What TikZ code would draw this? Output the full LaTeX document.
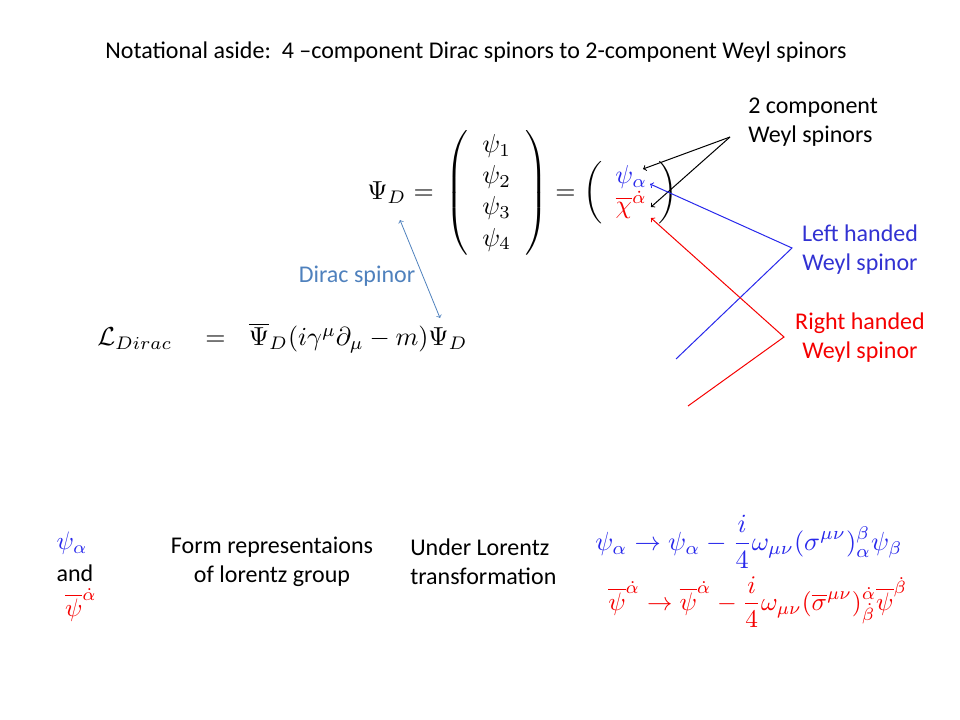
\RequirePackage{fix-cm}
\documentclass[tikz,border=0pt]{standalone}
\usepackage{graphicx}
\usepackage{fontspec}
\newfontfamily\calib{Carlito}
\definecolor{mblue}{RGB}{40,40,235}
\definecolor{tblue}{RGB}{50,50,210}
\definecolor{dblue}{RGB}{79,129,189}
\definecolor{mred}{RGB}{245,0,0}
\begin{document}
\begin{tikzpicture}[x=0.75pt,y=-0.75pt,
  txt/.style={font=\calib\fontsize{18}{21.6}\selectfont, inner sep=0pt, align=center},
  mth/.style={inner sep=0pt},
  conn/.style={line width=0.75pt, ->},
]
\useasboundingbox (0,0) rectangle (960,720);

% title
\node[txt] (title) at (476,52) {Notational aside:\ \ 4 –component Dirac spinors to 2-component Weyl spinors};

% Dirac spinor equation
\node[mth, anchor=west] (psiD) at (367,193)
  {\scalebox{1.95}{$\Psi_D = \,\left(\hspace{0.5pt}\begin{array}{c}\psi_1\\ \psi_2\\ \psi_3\\ \psi_4\end{array}\hspace{0.5pt}\right) =$}};
\node[mth, anchor=west] (weyl) at (583,193)
  {\scalebox{1.95}{$\left(\hspace{0pt}\renewcommand{\arraystretch}{0.85}\begin{array}{c}\color{mblue}\psi_\alpha\\ \color{mred}\overline{\chi}^{\dot\alpha}\end{array}\hspace{-0.5pt}\right)$}};

% Lagrangian
\node[mth, anchor=west] (lag) at (97,338)
  {\scalebox{1.95}{$\mathcal{L}_{Dirac}\quad = \hspace{6.2pt} \overline{\Psi}_D(i\gamma^\mu\partial_\mu - m)\Psi_D$}};

% labels
\node[txt, anchor=west, align=left] (wlab) at (748,122) {2 component\\Weyl spinors};
\node[txt, text=tblue] (llab) at (860,250) {Left handed\\Weyl spinor};
\node[txt, text=mred] (rlab) at (860,338) {Right handed\\Weyl spinor};
\node[txt, text=dblue] (dlab) at (357,276) {Dirac spinor};

% connectors
\coordinate (wk) at (730,137);
\coordinate (tpsi) at (643,169);
\coordinate (tchi) at (651,207);
\draw[conn] (wk) -- (tpsi);
\draw[conn] (wk) -- (tchi);

\coordinate (bs) at (676,359);
\coordinate (bk) at (792,248);
\coordinate (bt) at (650,184);
\draw[conn, draw=mblue] (bs) -- (bk) -- (bt);

\coordinate (rs) at (688,406);
\coordinate (rk) at (784,337);
\coordinate (rt) at (651,218);
\draw[conn, draw=mred] (rs) -- (rk) -- (rt);

\coordinate (da) at (400,220);
\coordinate (db) at (440,318);
\draw[line width=0.6pt, draw=dblue, <->] (da) -- (db);

% bottom
\node[mth, text=mblue] (bpsi) at (72,543) {\scalebox{1.9}{$\psi_\alpha$}};
\node[txt] (and) at (75,573) {and};
\node[mth, text=mred] (bpsib) at (81,605) {\scalebox{1.9}{$\overline{\psi}^{\dot\alpha}$}};

\node[txt] (form) at (272,562) {Form representaions\\of lorentz group};
\node[txt, anchor=west, align=left] (under) at (410,562) {Under Lorentz\\transformation};

\node[mth, text=mblue, anchor=west] (eqb) at (595,542)
  {\scalebox{1.97}{$\displaystyle \psi_\alpha \rightarrow \psi_\alpha - \frac{i}{4}\omega_{\mu\nu}(\sigma^{\mu\nu})_\alpha^\beta\psi_\beta$}};
\node[mth, text=mred, anchor=west] (eqr) at (608,602)
  {\scalebox{1.9}{$\displaystyle \overline{\psi}^{\dot\alpha} \rightarrow \overline{\psi}^{\dot\alpha} - \frac{i}{4}\omega_{\mu\nu}(\overline{\sigma}^{\mu\nu})^{\dot\alpha}_{\dot\beta}\overline{\psi}^{\dot\beta}$}};
\end{tikzpicture}
\end{document}
